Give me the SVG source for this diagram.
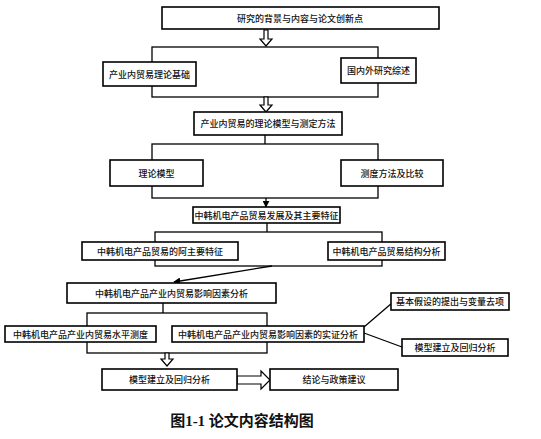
<svg xmlns="http://www.w3.org/2000/svg" width="541" height="439" viewBox="0 0 541 439">
<style>
.box{fill:#fff;stroke:#000;stroke-width:1.6}
.br{fill:none;stroke:#000;stroke-width:1.3}
.ln{fill:none;stroke:#000;stroke-width:1.3}
.ha{fill:#fff;stroke:#000;stroke-width:1.2}
text{font-family:"Noto Sans CJK SC","Noto Sans",sans-serif;font-size:9px;font-weight:500;fill:#111;text-anchor:middle;dominant-baseline:central}
.cap{font-family:"Liberation Serif","Noto Sans CJK SC",serif;font-size:15px;font-weight:bold;dominant-baseline:auto}
</style>
<defs>
<marker id="ah" viewBox="0 0 10 10" refX="9" refY="5" markerWidth="7" markerHeight="7" orient="auto" markerUnits="userSpaceOnUse">
<path d="M0,0 L10,5 L0,10 z" fill="#000"/>
</marker>
</defs>
<g id="connectors">
<rect class="br" x="152" y="47" width="226" height="50"/>
<rect class="br" x="152" y="144" width="226" height="54"/>
<rect class="br" x="155" y="232" width="227" height="34"/>
<rect class="br" x="87" y="313" width="180" height="40"/>
<path class="ha" d="M264,30 h4 v9 h4 l-6,7 l-6,-7 h4 z"/>
<path class="ha" d="M264,97 h4 v8 h4 l-6,7 l-6,-7 h4 z"/>
<line class="ln" x1="265" y1="135" x2="265" y2="144"/>
<line class="ln" x1="266" y1="198" x2="266" y2="207" marker-end="url(#ah)"/>
<line class="ln" x1="267" y1="223" x2="267" y2="232"/>
<line class="ln" x1="272" y1="266" x2="174" y2="282" stroke-width="1.8" marker-end="url(#ah)"/>
<line class="ln" x1="163" y1="303" x2="163" y2="313"/>
<path class="ha" d="M165,353 h4 v6 h4 l-6,7 l-6,-7 h4 z"/>
<path class="ha" d="M237,376 h24 v-5 l9,9 l-9,9 v-5 h-24 z"/>
<line class="ln" x1="364" y1="327" x2="392" y2="303"/>
<line class="ln" x1="364" y1="333" x2="402" y2="347"/>
</g>
<g id="n1"><rect class="box" x="162" y="7" width="277" height="22"/><text x="300" y="18">研究的背景与内容与论文创新点</text></g>
<g id="n2"><rect class="box" x="103" y="62" width="93" height="24"/><text x="149.5" y="74">产业内贸易理论基础</text></g>
<g id="n3"><rect class="box" x="341" y="58" width="75" height="25"/><text x="378.5" y="70.5">国内外研究综述</text></g>
<g id="n4"><rect class="box" x="194" y="112" width="148" height="23"/><text x="268" y="123.5">产业内贸易的理论模型与测定方法</text></g>
<g id="n5"><rect class="box" x="110" y="160" width="93" height="26"/><text x="156.5" y="173">理论模型</text></g>
<g id="n6"><rect class="box" x="341" y="160" width="102" height="26"/><text x="392" y="173">测度方法及比较</text></g>
<g id="n7"><rect class="box" x="193" y="207" width="147" height="16"/><text x="266.5" y="215">中韩机电产品贸易发展及其主要特征</text></g>
<g id="n8"><rect class="box" x="82" y="242" width="156" height="18"/><text x="160" y="251">中韩机电产品贸易的阿主要特征</text></g>
<g id="n9"><rect class="box" x="328" y="242" width="117" height="18"/><text x="386.5" y="251">中韩机电产品贸易结构分析</text></g>
<g id="n10"><rect class="box" x="67" y="283" width="209" height="20"/><text x="171.5" y="293">中韩机电产品产业内贸易影响因素分析</text></g>
<g id="n11"><rect class="box" x="5" y="326" width="151" height="16"/><text x="80.5" y="334">中韩机电产品产业内贸易水平测度</text></g>
<g id="n12"><rect class="box" x="172" y="326" width="192" height="16"/><text x="268" y="334">中韩机电产品产业内贸易影响因素的实证分析</text></g>
<g id="n13"><rect class="box" x="391" y="293" width="118" height="17"/><text x="450" y="301.5">基本假设的提出与变量去项</text></g>
<g id="n14"><rect class="box" x="402" y="339" width="106" height="17"/><text x="455" y="347.5">模型建立及回归分析</text></g>
<g id="n15"><rect class="box" x="102" y="369" width="135" height="21"/><text x="169.5" y="379.5">模型建立及回归分析</text></g>
<g id="n16"><rect class="box" x="270" y="369" width="128" height="21"/><text x="334" y="379.5">结论与政策建议</text></g>
<text class="cap" x="242" y="426">图1-1 论文内容结构图</text>
</svg>
